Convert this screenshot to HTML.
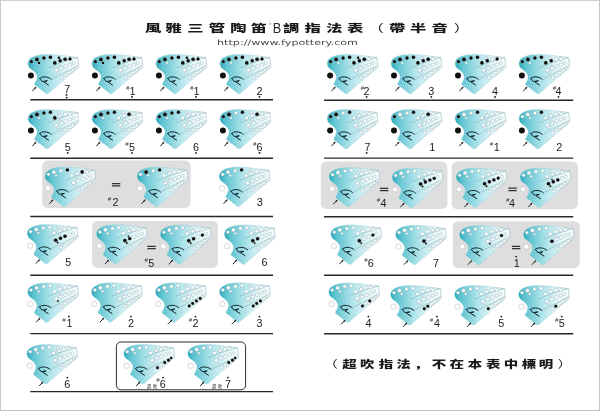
<!DOCTYPE html>
<html lang="zh-Hant">
<head>
<meta charset="utf-8">
<title>風雅三管陶笛 ♭B調指法表（帶半音）</title>
<style>
html,body{margin:0;padding:0;background:#fff;}
body{width:600px;height:411px;overflow:hidden;position:relative;}
svg{display:block;position:absolute;left:0;top:0;will-change:transform;}
.num{font-family:"Liberation Sans","DejaVu Sans",sans-serif;font-size:10.8px;fill:#1c1c1c;text-anchor:middle;}
.shp{font-family:"Liberation Sans","DejaVu Sans",sans-serif;font-size:6px;font-style:italic;fill:#333;text-anchor:middle;}
.ttl{font-family:"Liberation Sans","Noto Sans CJK TC","Noto Sans CJK SC",sans-serif;font-weight:900;font-size:10.5px;fill:#1a1a1a;text-anchor:middle;}
.note{font-family:"Liberation Sans","Noto Sans CJK SC","Noto Sans CJK TC",sans-serif;font-weight:900;font-size:10.2px;fill:#1a1a1a;text-anchor:middle;}
.url{font-family:"DejaVu Sans","Liberation Sans",sans-serif;font-size:7.4px;fill:#4a4a4a;}
.ov{font-family:"Liberation Sans","Noto Sans CJK TC","Noto Sans CJK SC",sans-serif;font-weight:400;font-size:4.3px;fill:#222;}
</style>
</head>
<body>
<svg width="600" height="411" viewBox="0 0 600 411">
<defs>
<linearGradient id="g" x1="0" y1="0" x2="1" y2="0">
<stop offset="0" stop-color="#2aa8b9"/>
<stop offset="0.12" stop-color="#5ec3d0"/>
<stop offset="0.45" stop-color="#aee3ea"/>
<stop offset="0.8" stop-color="#eaf8fa"/>
<stop offset="1" stop-color="#fafdfe"/>
</linearGradient>
<g id="oc">
<path d="M0.6,7.5 C1.2,5.6 2.3,4.4 3.6,3.7 C5.4,2.4 7.6,1.5 9.8,1 C12.6,0.4 15.4,0 18.4,0 C22,0 25.6,0.2 29.1,0.5 C32.7,0.8 36.3,1.3 39.8,1.8 C42.7,2.2 45.6,2.7 48.4,3.2 L50,3.1 L51,12.8 L20.2,39.3 C19.3,39.6 18.3,39.3 17.5,38.7 L8.6,31.5 L7.1,30.3 C6.9,29.8 6.9,29.3 7.1,28.8 C7.9,27.6 8.8,25.9 9.3,24 C9.6,22.7 9.5,21.4 9,20.3 C8.3,18.8 7.3,17.6 6.1,16.6 C4.7,15.5 3.1,14.5 1.8,13.3 C1.2,12.4 0.7,11.3 0.4,10.1 C0.3,9.2 0.4,8.3 0.6,7.5 Z" fill="url(#g)" stroke="#8fcfd8" stroke-width="0.4"/>
<path d="M40,1.9 L50,3.1 L51,12.8 L40,22.2" fill="none" stroke="#b4c2c5" stroke-width="0.5"/>
<path d="M20.5,13.6 C24,12 28.5,10.1 33,8.4 C38,6.6 44,4.8 49.8,3.2" fill="none" stroke="#78aab3" stroke-width="0.5"/>
<path d="M24.5,24.6 L50.3,10.9" fill="none" stroke="#78aab3" stroke-width="0.5"/>
<path d="M12.1,24 C13,23.2 14.2,22.8 15.3,22.6 C16.6,22.4 17.9,22.4 19.1,22.7 C20.8,23.1 22.4,23.8 23.6,24.9" fill="none" stroke="#10232a" stroke-width="1" stroke-linecap="round"/>
<path d="M12.1,24 L14.6,27.2 L19.6,26.3 L16.4,27.8 L20.8,30.7" fill="none" stroke="#10232a" stroke-width="1" stroke-linecap="round" stroke-linejoin="round"/>
<circle cx="9.6" cy="32.6" r="0.5" fill="#fff"/>
<circle cx="12.6" cy="35" r="0.5" fill="#fff"/>
<circle cx="16" cy="37.7" r="0.5" fill="#fff"/>
<circle cx="3.7" cy="7.2" r="1.65" fill="#fff" stroke="#86a9b0" stroke-width="0.45"/>
<circle cx="9.2" cy="5" r="1.95" fill="#fff" stroke="#86a9b0" stroke-width="0.45"/>
<circle cx="11.3" cy="8.5" r="1.25" fill="#fff" stroke="#86a9b0" stroke-width="0.45"/>
<circle cx="16.2" cy="3.6" r="1.75" fill="#fff" stroke="#86a9b0" stroke-width="0.45"/>
<circle cx="22.7" cy="2.8" r="1.75" fill="#fff" stroke="#86a9b0" stroke-width="0.45"/>
<circle cx="31.2" cy="3.4" r="1.25" fill="#fff" stroke="#86a9b0" stroke-width="0.45"/>
<circle cx="27.1" cy="8.5" r="1.85" fill="#fff" stroke="#86a9b0" stroke-width="0.45"/>
<circle cx="32.5" cy="6.3" r="1.75" fill="#fff" stroke="#86a9b0" stroke-width="0.45"/>
<circle cx="37.4" cy="4.8" r="1.85" fill="#fff" stroke="#86a9b0" stroke-width="0.45"/>
<circle cx="42.3" cy="4.5" r="1.65" fill="#fff" stroke="#86a9b0" stroke-width="0.45"/>
<circle cx="28.7" cy="15.8" r="1.85" fill="#fff" stroke="#86a9b0" stroke-width="0.45"/>
<circle cx="30.6" cy="18.2" r="1.15" fill="#fff" stroke="#86a9b0" stroke-width="0.45"/>
<circle cx="33.5" cy="13.8" r="1.75" fill="#fff" stroke="#86a9b0" stroke-width="0.45"/>
<circle cx="32.2" cy="11.5" r="1.05" fill="#fff" stroke="#86a9b0" stroke-width="0.45"/>
<circle cx="38" cy="11.9" r="1.75" fill="#fff" stroke="#86a9b0" stroke-width="0.45"/>
<circle cx="42.3" cy="10.1" r="1.65" fill="#fff" stroke="#86a9b0" stroke-width="0.45"/>
<circle cx="46" cy="8.7" r="1.45" fill="#fff" stroke="#86a9b0" stroke-width="0.45"/>
<circle cx="34" cy="23.2" r="1.55" fill="#fff" stroke="#86a9b0" stroke-width="0.45"/>
<circle cx="37.5" cy="20.7" r="1.55" fill="#fff" stroke="#86a9b0" stroke-width="0.45"/>
<circle cx="41.2" cy="18.1" r="1.55" fill="#fff" stroke="#86a9b0" stroke-width="0.45"/>
<circle cx="45" cy="15.7" r="1.55" fill="#fff" stroke="#86a9b0" stroke-width="0.45"/>
<circle cx="47.7" cy="13.5" r="1.25" fill="#fff" stroke="#86a9b0" stroke-width="0.45"/>
</g>
<g id="ar"><path d="M4.6,36.7 L8.1,32.8" fill="none" stroke="#151515" stroke-width="0.95"/><path d="M8.8,32 L6.5,33.4 L7.9,34.6 Z" fill="#151515"/></g>
</defs>
<rect x="0" y="0" width="600" height="411" fill="#fff"/>
<rect x="0" y="0" width="600" height="1" fill="#d0d0d0"/><rect x="0" y="0" width="1" height="411" fill="#c9c9c9"/><rect x="599" y="0" width="1" height="411" fill="#c6c6c6"/><rect x="0" y="410" width="600" height="1" fill="#c0c0c0"/>
<rect x="42.2" y="160.6" width="148.4" height="47.3" rx="5.4" ry="5.4" fill="#dedede"/>
<rect x="92.1" y="220.9" width="125.8" height="47" rx="5.4" ry="5.4" fill="#dedede"/>
<rect x="320.8" y="161.5" width="126.6" height="47.4" rx="5.4" ry="5.4" fill="#dedede"/>
<rect x="451.6" y="161.5" width="126.4" height="47.7" rx="5.4" ry="5.4" fill="#dedede"/>
<rect x="452.8" y="221.2" width="127" height="47" rx="5.4" ry="5.4" fill="#dedede"/>
<rect x="116.4" y="342" width="129.2" height="47.8" rx="4.5" ry="4.5" fill="#fff" stroke="#2c2c2c" stroke-width="1"/>
<line x1="30.3" y1="99.75" x2="273" y2="99.75" stroke="#2a2626" stroke-width="1.4"/>
<line x1="30.3" y1="158.3" x2="273" y2="158.3" stroke="#2a2626" stroke-width="1.4"/>
<line x1="30.3" y1="216.5" x2="273" y2="216.5" stroke="#2a2626" stroke-width="1.4"/>
<line x1="30.3" y1="275.3" x2="273" y2="275.3" stroke="#2a2626" stroke-width="1.4"/>
<line x1="30.3" y1="333.6" x2="273" y2="333.6" stroke="#2a2626" stroke-width="1.4"/>
<line x1="30.3" y1="391.6" x2="273" y2="391.6" stroke="#2a2626" stroke-width="1.4"/>
<line x1="324.1" y1="100.2" x2="573.2" y2="100.2" stroke="#2a2626" stroke-width="1.4"/>
<line x1="324.1" y1="158.1" x2="573.2" y2="158.1" stroke="#2a2626" stroke-width="1.4"/>
<line x1="324.1" y1="216.7" x2="573.2" y2="216.7" stroke="#2a2626" stroke-width="1.4"/>
<line x1="324.1" y1="275.2" x2="573.2" y2="275.2" stroke="#2a2626" stroke-width="1.4"/>
<line x1="324.1" y1="333.8" x2="573.2" y2="333.8" stroke="#2a2626" stroke-width="1.4"/>
<g transform="translate(27.7,54.4)"><use href="#oc"/><use href="#ar"/><circle cx="3.2" cy="21.2" r="3" fill="#111"/><circle cx="3.7" cy="7.2" r="1.58" fill="#0a0a0a"/><circle cx="9.2" cy="5" r="1.88" fill="#0a0a0a"/><circle cx="11.3" cy="8.5" r="1.18" fill="#0a0a0a"/><circle cx="16.2" cy="3.6" r="1.68" fill="#0a0a0a"/><circle cx="22.7" cy="2.8" r="1.68" fill="#0a0a0a"/><circle cx="31.2" cy="3.4" r="1.18" fill="#0a0a0a"/><circle cx="27.1" cy="8.5" r="1.78" fill="#0a0a0a"/><circle cx="32.5" cy="6.3" r="1.68" fill="#0a0a0a"/><circle cx="37.4" cy="4.8" r="1.78" fill="#0a0a0a"/><circle cx="42.3" cy="4.5" r="1.58" fill="#0a0a0a"/></g>
<g transform="translate(91.7,54.4)"><use href="#oc"/><use href="#ar"/><circle cx="3.2" cy="21.2" r="3" fill="#111"/><circle cx="3.7" cy="7.2" r="1.58" fill="#0a0a0a"/><circle cx="9.2" cy="5" r="1.88" fill="#0a0a0a"/><circle cx="11.3" cy="8.5" r="1.18" fill="#0a0a0a"/><circle cx="16.2" cy="3.6" r="1.68" fill="#0a0a0a"/><circle cx="22.7" cy="2.8" r="1.68" fill="#0a0a0a"/><circle cx="27.1" cy="8.5" r="1.78" fill="#0a0a0a"/><circle cx="32.5" cy="6.3" r="1.68" fill="#0a0a0a"/><circle cx="37.4" cy="4.8" r="1.78" fill="#0a0a0a"/><circle cx="42.3" cy="4.5" r="1.58" fill="#0a0a0a"/></g>
<g transform="translate(155.7,54.4)"><use href="#oc"/><use href="#ar"/><circle cx="3.2" cy="21.2" r="3" fill="#111"/><circle cx="3.7" cy="7.2" r="1.58" fill="#0a0a0a"/><circle cx="9.2" cy="5" r="1.88" fill="#0a0a0a"/><circle cx="16.2" cy="3.6" r="1.68" fill="#0a0a0a"/><circle cx="22.7" cy="2.8" r="1.68" fill="#0a0a0a"/><circle cx="31.2" cy="3.4" r="1.18" fill="#0a0a0a"/><circle cx="27.1" cy="8.5" r="1.78" fill="#0a0a0a"/><circle cx="32.5" cy="6.3" r="1.68" fill="#0a0a0a"/><circle cx="37.4" cy="4.8" r="1.78" fill="#0a0a0a"/><circle cx="42.3" cy="4.5" r="1.58" fill="#0a0a0a"/></g>
<g transform="translate(219.7,54.4)"><use href="#oc"/><use href="#ar"/><circle cx="3.2" cy="21.2" r="3" fill="#111"/><circle cx="3.7" cy="7.2" r="1.58" fill="#0a0a0a"/><circle cx="9.2" cy="5" r="1.88" fill="#0a0a0a"/><circle cx="16.2" cy="3.6" r="1.68" fill="#0a0a0a"/><circle cx="22.7" cy="2.8" r="1.68" fill="#0a0a0a"/><circle cx="27.1" cy="8.5" r="1.78" fill="#0a0a0a"/><circle cx="32.5" cy="6.3" r="1.68" fill="#0a0a0a"/><circle cx="37.4" cy="4.8" r="1.78" fill="#0a0a0a"/><circle cx="42.3" cy="4.5" r="1.58" fill="#0a0a0a"/></g>
<g transform="translate(27.7,109.4)"><use href="#oc"/><use href="#ar"/><circle cx="3.2" cy="21.2" r="3" fill="#111"/><circle cx="3.7" cy="7.2" r="1.58" fill="#0a0a0a"/><circle cx="9.2" cy="5" r="1.88" fill="#0a0a0a"/><circle cx="16.2" cy="3.6" r="1.68" fill="#0a0a0a"/><circle cx="22.7" cy="2.8" r="1.68" fill="#0a0a0a"/><circle cx="27.1" cy="8.5" r="1.78" fill="#0a0a0a"/></g>
<g transform="translate(91.7,109.4)"><use href="#oc"/><use href="#ar"/><circle cx="3.2" cy="21.2" r="3" fill="#111"/><circle cx="3.7" cy="7.2" r="1.58" fill="#0a0a0a"/><circle cx="9.2" cy="5" r="1.88" fill="#0a0a0a"/><circle cx="16.2" cy="3.6" r="1.68" fill="#0a0a0a"/><circle cx="22.7" cy="2.8" r="1.68" fill="#0a0a0a"/><circle cx="37.4" cy="4.8" r="1.78" fill="#0a0a0a"/></g>
<g transform="translate(155.7,109.4)"><use href="#oc"/><use href="#ar"/><circle cx="3.2" cy="21.2" r="3" fill="#111"/><circle cx="3.7" cy="7.2" r="1.58" fill="#0a0a0a"/><circle cx="9.2" cy="5" r="1.88" fill="#0a0a0a"/><circle cx="16.2" cy="3.6" r="1.68" fill="#0a0a0a"/><circle cx="22.7" cy="2.8" r="1.68" fill="#0a0a0a"/></g>
<g transform="translate(219.7,109.4)"><use href="#oc"/><use href="#ar"/><circle cx="3.2" cy="21.2" r="3" fill="#111"/><circle cx="3.7" cy="7.2" r="1.58" fill="#0a0a0a"/><circle cx="9.2" cy="5" r="1.88" fill="#0a0a0a"/><circle cx="22.7" cy="2.8" r="1.68" fill="#0a0a0a"/><circle cx="37.4" cy="4.8" r="1.78" fill="#0a0a0a"/></g>
<g transform="translate(44.7,167.1)"><use href="#oc"/><use href="#ar"/><circle cx="3.2" cy="21.2" r="2.7" fill="#fff" stroke="#bdbdbd" stroke-width="0.6"/><circle cx="22.7" cy="2.8" r="1.68" fill="#0a0a0a"/><circle cx="37.4" cy="4.8" r="1.78" fill="#0a0a0a"/></g>
<g transform="translate(136.9,167.1)"><use href="#oc"/><use href="#ar"/><circle cx="3.2" cy="21.2" r="2.7" fill="#fff" stroke="#bdbdbd" stroke-width="0.6"/><circle cx="9.2" cy="5" r="1.88" fill="#0a0a0a"/><circle cx="22.7" cy="2.8" r="1.68" fill="#0a0a0a"/></g>
<g transform="translate(218.9,167.1)"><use href="#oc"/><use href="#ar"/><circle cx="3.2" cy="21.2" r="2.7" fill="#fff" stroke="#bdbdbd" stroke-width="0.6"/><circle cx="22.7" cy="2.8" r="1.68" fill="#0a0a0a"/></g>
<g transform="translate(27,224.4)"><use href="#oc"/><use href="#ar" x="4.2" y="2.6"/><circle cx="3.2" cy="21.2" r="2.7" fill="#fff" stroke="#bdbdbd" stroke-width="0.6"/><circle cx="28.7" cy="15.8" r="1.78" fill="#0a0a0a"/><circle cx="30.6" cy="18.2" r="0.9" fill="#0a0a0a"/><circle cx="33.5" cy="13.8" r="1.68" fill="#0a0a0a"/><circle cx="38" cy="11.9" r="1.68" fill="#0a0a0a"/></g>
<g transform="translate(96.2,224.8)"><use href="#oc"/><use href="#ar" x="4.2" y="2.6"/><circle cx="3.2" cy="21.2" r="2.7" fill="#fff" stroke="#bdbdbd" stroke-width="0.6"/><circle cx="28.7" cy="15.8" r="1.78" fill="#0a0a0a"/><circle cx="30.6" cy="18.2" r="0.9" fill="#0a0a0a"/><circle cx="33.5" cy="13.8" r="1.68" fill="#0a0a0a"/><circle cx="32.2" cy="11.5" r="0.8" fill="#0a0a0a"/></g>
<g transform="translate(160.1,225)"><use href="#oc"/><use href="#ar" x="4.2" y="2.6"/><circle cx="3.2" cy="21.2" r="2.7" fill="#fff" stroke="#bdbdbd" stroke-width="0.6"/><circle cx="28.7" cy="15.8" r="1.78" fill="#0a0a0a"/><circle cx="30.6" cy="18.2" r="0.9" fill="#0a0a0a"/><circle cx="33.5" cy="13.8" r="1.68" fill="#0a0a0a"/><circle cx="42.3" cy="10.1" r="1.58" fill="#0a0a0a"/></g>
<g transform="translate(224.1,224.9)"><use href="#oc"/><use href="#ar" x="4.2" y="2.6"/><circle cx="3.2" cy="21.2" r="2.7" fill="#fff" stroke="#bdbdbd" stroke-width="0.6"/><circle cx="28.7" cy="15.8" r="1.78" fill="#0a0a0a"/><circle cx="30.6" cy="18.2" r="0.9" fill="#0a0a0a"/><circle cx="33.5" cy="13.8" r="1.68" fill="#0a0a0a"/></g>
<g transform="translate(27.4,282.9)"><use href="#oc"/><use href="#ar" x="4.2" y="2.6"/><circle cx="3.2" cy="21.2" r="2.7" fill="#fff" stroke="#bdbdbd" stroke-width="0.6"/><circle cx="30.6" cy="18.2" r="0.9" fill="#0a0a0a"/></g>
<g transform="translate(91.2,282.8)"><use href="#oc"/><use href="#ar" x="4.2" y="2.7"/><circle cx="3.2" cy="21.2" r="2.7" fill="#fff" stroke="#bdbdbd" stroke-width="0.6"/></g>
<g transform="translate(155.2,282.8)"><use href="#oc"/><use href="#ar" x="8.1" y="4.8"/><circle cx="3.2" cy="21.2" r="2.7" fill="#fff" stroke="#bdbdbd" stroke-width="0.6"/><circle cx="34" cy="23.2" r="1.48" fill="#0a0a0a"/><circle cx="37.5" cy="20.7" r="1.48" fill="#0a0a0a"/><circle cx="41.2" cy="18.1" r="1.48" fill="#0a0a0a"/><circle cx="45" cy="15.7" r="1.48" fill="#0a0a0a"/></g>
<g transform="translate(219.2,282.8)"><use href="#oc"/><use href="#ar" x="8.1" y="4.8"/><circle cx="3.2" cy="21.2" r="2.7" fill="#fff" stroke="#bdbdbd" stroke-width="0.6"/><circle cx="34" cy="23.2" r="1.48" fill="#0a0a0a"/><circle cx="37.5" cy="20.7" r="1.48" fill="#0a0a0a"/><circle cx="41.2" cy="18.1" r="1.48" fill="#0a0a0a"/></g>
<g transform="translate(26.5,344.5)"><use href="#oc"/><use href="#ar" x="8.1" y="4.8"/><circle cx="3.2" cy="21.2" r="2.7" fill="#fff" stroke="#bdbdbd" stroke-width="0.6"/></g>
<g transform="translate(123.5,344.5)"><use href="#oc"/><use href="#ar" x="8.1" y="4.8"/><circle cx="3.2" cy="21.2" r="2.7" fill="#fff" stroke="#bdbdbd" stroke-width="0.6"/><circle cx="34" cy="23.2" r="1.48" fill="#0a0a0a"/><circle cx="41.2" cy="18.1" r="1.48" fill="#0a0a0a"/><circle cx="45" cy="15.7" r="1.48" fill="#0a0a0a"/><circle cx="47.7" cy="13.5" r="1.18" fill="#0a0a0a"/></g>
<g transform="translate(187.5,344.5)"><use href="#oc"/><use href="#ar" x="8.1" y="4.8"/><circle cx="3.2" cy="21.2" r="2.7" fill="#fff" stroke="#bdbdbd" stroke-width="0.6"/><circle cx="41.2" cy="18.1" r="1.48" fill="#0a0a0a"/><circle cx="45" cy="15.7" r="1.48" fill="#0a0a0a"/><circle cx="47.7" cy="13.5" r="1.18" fill="#0a0a0a"/></g>
<g transform="translate(326.9,54.4)"><use href="#oc"/><use href="#ar"/><circle cx="3.2" cy="21.2" r="3" fill="#111"/><circle cx="3.7" cy="7.2" r="1.58" fill="#0a0a0a"/><circle cx="9.2" cy="5" r="1.88" fill="#0a0a0a"/><circle cx="16.2" cy="3.6" r="1.68" fill="#0a0a0a"/><circle cx="22.7" cy="2.8" r="1.68" fill="#0a0a0a"/><circle cx="31.2" cy="3.4" r="1.18" fill="#0a0a0a"/><circle cx="27.1" cy="8.5" r="1.78" fill="#0a0a0a"/><circle cx="32.5" cy="6.3" r="1.68" fill="#0a0a0a"/><circle cx="37.4" cy="4.8" r="1.78" fill="#0a0a0a"/></g>
<g transform="translate(390.8,54.4)"><use href="#oc"/><use href="#ar"/><circle cx="3.2" cy="21.2" r="3" fill="#111"/><circle cx="3.7" cy="7.2" r="1.58" fill="#0a0a0a"/><circle cx="9.2" cy="5" r="1.88" fill="#0a0a0a"/><circle cx="16.2" cy="3.6" r="1.68" fill="#0a0a0a"/><circle cx="22.7" cy="2.8" r="1.68" fill="#0a0a0a"/><circle cx="27.1" cy="8.5" r="1.78" fill="#0a0a0a"/><circle cx="32.5" cy="6.3" r="1.68" fill="#0a0a0a"/><circle cx="37.4" cy="4.8" r="1.78" fill="#0a0a0a"/></g>
<g transform="translate(454.8,54.4)"><use href="#oc"/><use href="#ar"/><circle cx="3.2" cy="21.2" r="3" fill="#111"/><circle cx="3.7" cy="7.2" r="1.58" fill="#0a0a0a"/><circle cx="9.2" cy="5" r="1.88" fill="#0a0a0a"/><circle cx="16.2" cy="3.6" r="1.68" fill="#0a0a0a"/><circle cx="22.7" cy="2.8" r="1.68" fill="#0a0a0a"/><circle cx="27.1" cy="8.5" r="1.78" fill="#0a0a0a"/><circle cx="32.5" cy="6.3" r="1.68" fill="#0a0a0a"/><circle cx="42.3" cy="4.5" r="1.58" fill="#0a0a0a"/></g>
<g transform="translate(518.7,54.4)"><use href="#oc"/><use href="#ar"/><circle cx="3.2" cy="21.2" r="3" fill="#111"/><circle cx="3.7" cy="7.2" r="1.58" fill="#0a0a0a"/><circle cx="9.2" cy="5" r="1.88" fill="#0a0a0a"/><circle cx="16.2" cy="3.6" r="1.68" fill="#0a0a0a"/><circle cx="22.7" cy="2.8" r="1.68" fill="#0a0a0a"/><circle cx="27.1" cy="8.5" r="1.78" fill="#0a0a0a"/><circle cx="32.5" cy="6.3" r="1.68" fill="#0a0a0a"/></g>
<g transform="translate(326.9,109.4)"><use href="#oc"/><use href="#ar"/><circle cx="3.2" cy="21.2" r="3" fill="#111"/><circle cx="3.7" cy="7.2" r="1.58" fill="#0a0a0a"/><circle cx="9.2" cy="5" r="1.88" fill="#0a0a0a"/><circle cx="22.7" cy="2.8" r="1.68" fill="#0a0a0a"/></g>
<g transform="translate(390.8,109.4)"><use href="#oc"/><use href="#ar"/><circle cx="3.2" cy="21.2" r="3" fill="#111"/><circle cx="3.7" cy="7.2" r="1.58" fill="#0a0a0a"/><circle cx="22.7" cy="2.8" r="1.68" fill="#0a0a0a"/><circle cx="37.4" cy="4.8" r="1.78" fill="#0a0a0a"/></g>
<g transform="translate(454.8,109.4)"><use href="#oc"/><use href="#ar"/><circle cx="3.2" cy="21.2" r="3" fill="#111"/><circle cx="3.7" cy="7.2" r="1.58" fill="#0a0a0a"/><circle cx="22.7" cy="2.8" r="1.68" fill="#0a0a0a"/></g>
<g transform="translate(518.7,109.4)"><use href="#oc"/><use href="#ar"/><circle cx="3.2" cy="21.2" r="3" fill="#111"/><circle cx="22.7" cy="2.8" r="1.68" fill="#0a0a0a"/></g>
<g transform="translate(328.8,167.5)"><use href="#oc"/><use href="#ar"/><circle cx="3.2" cy="21.2" r="2.7" fill="#fff" stroke="#bdbdbd" stroke-width="0.6"/></g>
<g transform="translate(391.9,168.2)"><use href="#oc"/><use href="#ar" x="3.9" y="2.4"/><circle cx="3.2" cy="21.2" r="2.7" fill="#fff" stroke="#bdbdbd" stroke-width="0.6"/><circle cx="28.7" cy="15.8" r="1.78" fill="#0a0a0a"/><circle cx="30.6" cy="18.2" r="0.9" fill="#0a0a0a"/><circle cx="33.5" cy="13.8" r="1.68" fill="#0a0a0a"/><circle cx="32.2" cy="11.5" r="0.8" fill="#0a0a0a"/><circle cx="38" cy="11.9" r="1.68" fill="#0a0a0a"/><circle cx="42.3" cy="10.1" r="1.58" fill="#0a0a0a"/></g>
<g transform="translate(455.9,168)"><use href="#oc"/><use href="#ar" x="3.9" y="2.4"/><circle cx="3.2" cy="21.2" r="2.7" fill="#fff" stroke="#bdbdbd" stroke-width="0.6"/><circle cx="28.7" cy="15.8" r="1.78" fill="#0a0a0a"/><circle cx="30.6" cy="18.2" r="0.9" fill="#0a0a0a"/><circle cx="33.5" cy="13.8" r="1.68" fill="#0a0a0a"/><circle cx="38" cy="11.9" r="1.68" fill="#0a0a0a"/><circle cx="42.3" cy="10.1" r="1.58" fill="#0a0a0a"/></g>
<g transform="translate(519.8,168)"><use href="#oc"/><use href="#ar" x="3.9" y="2.4"/><circle cx="3.2" cy="21.2" r="2.7" fill="#fff" stroke="#bdbdbd" stroke-width="0.6"/><circle cx="28.7" cy="15.8" r="1.78" fill="#0a0a0a"/><circle cx="30.6" cy="18.2" r="0.9" fill="#0a0a0a"/><circle cx="33.5" cy="13.8" r="1.68" fill="#0a0a0a"/><circle cx="32.2" cy="11.5" r="0.8" fill="#0a0a0a"/><circle cx="38" cy="11.9" r="1.68" fill="#0a0a0a"/></g>
<g transform="translate(330.6,224.9)"><use href="#oc"/><use href="#ar" x="4.2" y="2.6"/><circle cx="3.2" cy="21.2" r="2.7" fill="#fff" stroke="#bdbdbd" stroke-width="0.6"/><circle cx="28.7" cy="15.8" r="1.78" fill="#0a0a0a"/><circle cx="30.6" cy="18.2" r="0.9" fill="#0a0a0a"/><circle cx="42.3" cy="10.1" r="1.58" fill="#0a0a0a"/></g>
<g transform="translate(395.3,225.3)"><use href="#oc"/><use href="#ar" x="4.2" y="2.6"/><circle cx="3.2" cy="21.2" r="2.7" fill="#fff" stroke="#bdbdbd" stroke-width="0.6"/><circle cx="28.7" cy="15.8" r="1.78" fill="#0a0a0a"/><circle cx="30.6" cy="18.2" r="0.9" fill="#0a0a0a"/></g>
<g transform="translate(459.2,225.4)"><use href="#oc"/><use href="#ar" x="4.2" y="2.6"/><circle cx="3.2" cy="21.2" r="2.7" fill="#fff" stroke="#bdbdbd" stroke-width="0.6"/><circle cx="30.6" cy="18.2" r="0.9" fill="#0a0a0a"/><circle cx="42.3" cy="10.1" r="1.58" fill="#0a0a0a"/></g>
<g transform="translate(523.2,225.4)"><use href="#oc"/><use href="#ar" x="4.2" y="2.6"/><circle cx="3.2" cy="21.2" r="2.7" fill="#fff" stroke="#bdbdbd" stroke-width="0.6"/><circle cx="28.7" cy="15.8" r="1.78" fill="#0a0a0a"/></g>
<g transform="translate(328.5,282.9)"><use href="#oc"/><use href="#ar" x="8.1" y="4.8"/><circle cx="3.2" cy="21.2" r="2.7" fill="#fff" stroke="#bdbdbd" stroke-width="0.6"/><circle cx="34" cy="23.2" r="1.48" fill="#0a0a0a"/><circle cx="41.2" cy="18.1" r="1.48" fill="#0a0a0a"/></g>
<g transform="translate(390.3,285.5)"><use href="#oc"/><use href="#ar" x="8.1" y="4.8"/><circle cx="3.2" cy="21.2" r="2.7" fill="#fff" stroke="#bdbdbd" stroke-width="0.6"/><circle cx="34" cy="23.2" r="1.48" fill="#0a0a0a"/><circle cx="37.5" cy="20.7" r="1.48" fill="#0a0a0a"/></g>
<g transform="translate(454.3,285.5)"><use href="#oc"/><use href="#ar" x="8.1" y="4.8"/><circle cx="3.2" cy="21.2" r="2.7" fill="#fff" stroke="#bdbdbd" stroke-width="0.6"/><circle cx="34" cy="23.2" r="1.48" fill="#0a0a0a"/></g>
<g transform="translate(518.3,285.5)"><use href="#oc"/><use href="#ar" x="8.1" y="4.8"/><circle cx="3.2" cy="21.2" r="2.7" fill="#fff" stroke="#bdbdbd" stroke-width="0.6"/><circle cx="37.5" cy="20.7" r="1.48" fill="#0a0a0a"/></g>
<text class="num" x="67.3" y="93">7</text><circle cx="66.6" cy="94.9" r="0.95" fill="#1c1c1c"/><circle cx="66.6" cy="97.6" r="0.95" fill="#1c1c1c"/>
<text class="num" x="132.5" y="95">1</text><text class="shp" x="127.6" y="90.3">#</text><circle cx="131.9" cy="96.9" r="0.95" fill="#1c1c1c"/>
<text class="num" x="196.5" y="95">1</text><text class="shp" x="191.6" y="90.3">#</text><circle cx="195.9" cy="96.9" r="0.95" fill="#1c1c1c"/>
<text class="num" x="259.5" y="95">2</text><circle cx="259.5" cy="96.9" r="0.95" fill="#1c1c1c"/>
<text class="num" x="67.7" y="151">5</text><circle cx="67.7" cy="152.9" r="0.95" fill="#1c1c1c"/>
<text class="num" x="132" y="151">5</text><text class="shp" x="126.9" y="146.3">#</text><circle cx="132" cy="152.9" r="0.95" fill="#1c1c1c"/>
<text class="num" x="196" y="151">6</text><circle cx="196" cy="152.9" r="0.95" fill="#1c1c1c"/>
<text class="num" x="259.6" y="151">6</text><text class="shp" x="254.6" y="146.3">#</text><circle cx="259.6" cy="152.9" r="0.95" fill="#1c1c1c"/>
<text class="num" x="115.4" y="206">2</text><text class="shp" x="109.35" y="201.3">#</text>
<text class="num" x="259.8" y="206">3</text>
<text class="num" x="68.2" y="266">5</text>
<text class="num" x="151.3" y="267">5</text><text class="shp" x="146.2" y="262.3">#</text>
<text class="num" x="264.6" y="266">6</text>
<text class="num" x="69.5" y="327">1</text><text class="shp" x="64" y="322.3">#</text><circle cx="68.9" cy="316.6" r="0.95" fill="#1c1c1c"/>
<text class="num" x="130.9" y="327">2</text><circle cx="130.9" cy="316.6" r="0.95" fill="#1c1c1c"/>
<text class="num" x="195.5" y="327">2</text><text class="shp" x="190.4" y="322.3">#</text><circle cx="195.5" cy="316.6" r="0.95" fill="#1c1c1c"/>
<text class="num" x="259.5" y="327">3</text><circle cx="259.5" cy="316.6" r="0.95" fill="#1c1c1c"/>
<text class="num" x="67.3" y="388">6</text><circle cx="67.3" cy="377.6" r="0.95" fill="#1c1c1c"/>
<text class="num" x="366.6" y="95">2</text><text class="shp" x="362.5" y="90.3">#</text><circle cx="366.6" cy="96.9" r="0.95" fill="#1c1c1c"/>
<text class="num" x="431.3" y="95">3</text><circle cx="431.3" cy="96.9" r="0.95" fill="#1c1c1c"/>
<text class="num" x="495.1" y="95">4</text><circle cx="495.1" cy="96.9" r="0.95" fill="#1c1c1c"/>
<text class="num" x="558.5" y="95">4</text><text class="shp" x="554.5" y="90.3">#</text><circle cx="558.5" cy="96.9" r="0.95" fill="#1c1c1c"/>
<text class="num" x="367.4" y="151">7</text><circle cx="366.7" cy="152.9" r="0.95" fill="#1c1c1c"/>
<text class="num" x="432.2" y="151">1</text>
<text class="num" x="496.7" y="151">1</text><text class="shp" x="491.3" y="146.3">#</text>
<text class="num" x="559.2" y="151">2</text>
<text class="num" x="383.5" y="207">4</text><text class="shp" x="378.5" y="202.3">#</text>
<text class="num" x="512.1" y="207">4</text><text class="shp" x="507.7" y="202.3">#</text>
<text class="num" x="370.7" y="267">6</text><text class="shp" x="366" y="262.3">#</text>
<text class="num" x="436" y="267">7</text>
<text class="num" x="516.8" y="267">1</text><circle cx="516.2" cy="256.6" r="0.95" fill="#1c1c1c"/>
<text class="num" x="368.4" y="327">4</text><circle cx="368.4" cy="316.6" r="0.95" fill="#1c1c1c"/>
<text class="num" x="437" y="327">4</text><text class="shp" x="431.3" y="322.3">#</text><circle cx="437" cy="316.6" r="0.95" fill="#1c1c1c"/>
<text class="num" x="501.3" y="327">5</text><circle cx="501.3" cy="316.6" r="0.95" fill="#1c1c1c"/>
<text class="num" x="561.7" y="327">5</text><text class="shp" x="556.6" y="322.3">#</text><circle cx="561.7" cy="316.6" r="0.95" fill="#1c1c1c"/>
<path d="M111.9,183.6 h8.4 M111.9,185.9 h8.4" stroke="#333" stroke-width="1.25" fill="none"/>
<path d="M147.4,246.35 h8.4 M147.4,248.65 h8.4" stroke="#333" stroke-width="1.25" fill="none"/>
<path d="M379.9,188.25 h8.4 M379.9,190.55 h8.4" stroke="#333" stroke-width="1.25" fill="none"/>
<path d="M508.4,188.2 h8.4 M508.4,190.5 h8.4" stroke="#333" stroke-width="1.25" fill="none"/>
<path d="M511.9,246.25 h8.4 M511.9,248.55 h8.4" stroke="#333" stroke-width="1.25" fill="none"/>
<text class="ov" x="146.9" y="388" textLength="10.3" lengthAdjust="spacing">超吹</text><text class="num" x="162.8" y="388">6</text><text class="shp" x="158" y="381.8">#</text><circle cx="163.1" cy="377.6" r="0.95" fill="#1c1c1c"/>
<text class="ov" x="211.9" y="388" textLength="10.3" lengthAdjust="spacing">超吹</text><text class="num" x="227.9" y="388">7</text><circle cx="227.9" cy="377.6" r="0.95" fill="#1c1c1c"/>
<text class="ttl" transform="scale(1.56,1)" x="98.14 111.38 125.32 139.04 152.82 165.77" y="31.7">風雅三管陶笛</text>
<text x="270.3" y="24.9" style="font-family:'DejaVu Sans','Liberation Sans',sans-serif;font-size:6px;fill:#666;text-anchor:middle">♭</text><text style="font-family:'Liberation Sans',sans-serif;font-size:14.8px;fill:#2a2a2a;text-anchor:middle" transform="translate(276.9,33) scale(0.86,1)">B</text>
<text class="ttl" transform="scale(1.56,1)" x="186.7 200.48 214.17 227.63 240.77 254.65 268.11 281.79 296.09" y="31.7">調指法表<tspan style="font-weight:400">（</tspan>帶半音<tspan style="font-weight:400">）</tspan></text>
<text class="url" x="217" y="44.8" textLength="141" lengthAdjust="spacingAndGlyphs">http://www.fypottery.com</text>
<text class="note" transform="scale(1.42,1)" x="232.82 246.13 258.59 271.9 284.23 296.62 309.23 321.69 334.51 347.32 359.93 372.46 384.51 397.89" y="368.1"><tspan style="font-weight:400">（</tspan>超吹指法<tspan lang="zh-CN">，</tspan>不在本表中標明<tspan style="font-weight:400">）</tspan></text>
</svg>
</body>
</html>
